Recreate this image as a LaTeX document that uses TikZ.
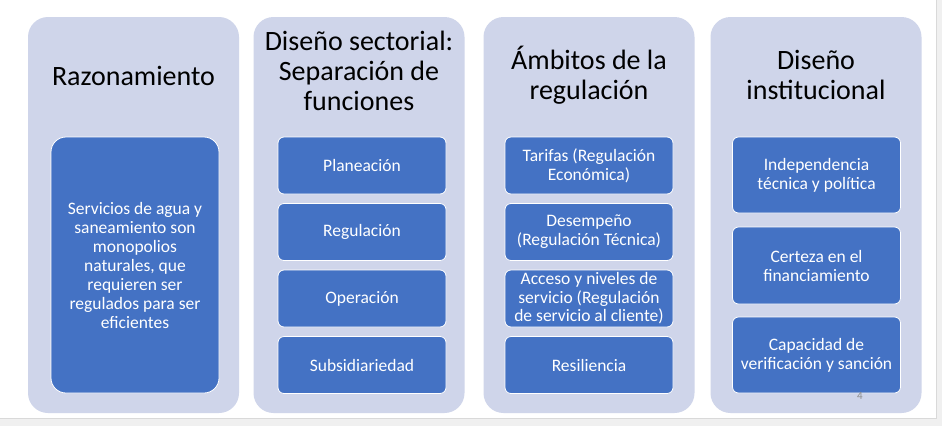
\documentclass[tikz,border=0pt]{standalone}
\usepackage{fontspec}
\setmainfont{Carlito}
\definecolor{outerc}{HTML}{CFD5EA}
\definecolor{innerc}{HTML}{4472C4}
\definecolor{pagebg}{HTML}{F0F0F0}
\definecolor{pageline}{HTML}{D9D9D9}
\definecolor{numc}{HTML}{8C8C8C}
\begin{document}
\begin{tikzpicture}[x=1pt,y=-1pt,
  outerbox/.style={fill=outerc, draw=none, rounded corners=20pt, minimum width=211pt, minimum height=396pt, inner sep=0pt},
  titletext/.style={align=center, anchor=base, inner sep=0pt, font=\fontsize{28}{30}\selectfont, text=black},
  innerbox/.style={fill=innerc, draw=white, line width=0.8pt, rounded corners=6pt, minimum width=168pt, inner sep=0pt, align=center, text=white, font=\fontsize{17.5}{19}\selectfont},
  h57/.style={minimum height=57pt},
  h76/.style={minimum height=76pt}]
\useasboundingbox (0,0) rectangle (942,426);
% page
\fill[pagebg] (0,0) rectangle (942,426);
\fill[white] (0,0) rectangle (936,418);
\draw[pageline, line width=0.8pt] (936,0) -- (936,418) -- (0,418);
% outer columns
\node[outerbox] (c1) at (133.5,215) {};
\node[outerbox] (c2) at (359,215) {};
\node[outerbox] (c3) at (589,215) {};
\node[outerbox] (c4) at (816,215) {};
% titles (base anchor = baseline of the last line)
\node[titletext] (t1) at (133.5,85) {Razonamiento};
\node[titletext] (t2) at (359,110) {Diseño sectorial:\\Separación de\\funciones};
\node[titletext] (t3) at (589,99) {Ámbitos de la\\regulación};
\node[titletext] (t4) at (816,99) {Diseño\\institucional};
% column 1
\node[innerbox, rounded corners=15pt, minimum height=256pt] (r1) at (135,265) {Servicios de agua y\\saneamiento son\\monopolios\\naturales, que\\requieren ser\\regulados para ser\\eficientes};
% column 2
\node[innerbox, h57] (s1) at (362,165.5) {Planeación};
\node[innerbox, h57] (s2) at (362,232) {Regulación};
\node[innerbox, h57] (s3) at (362,298.5) {Operación};
\node[innerbox, h57] (s4) at (362,365) {Subsidiariedad};
% column 3
\node[innerbox, h57] (a1) at (589,165.5) {Tarifas (Regulación\\Económica)};
\node[innerbox, h57] (a2) at (589,232) {Desempeño\\(Regulación Técnica)};
\node[innerbox, h57, font=\fontsize{17.5}{18.5}\selectfont] (a3) at (589,298.5) {Acceso y niveles de\\servicio (Regulación\\de servicio al cliente)};
\node[innerbox, h57] (a4) at (589,365) {Resiliencia};
% column 4
\node[innerbox, h76] (d1) at (816.5,175) {Independencia\\técnica y política};
\node[innerbox, h76, minimum height=77pt] (d2) at (816.5,265.5) {Certeza en el\\financiamiento};
\node[innerbox, h76] (d3) at (816.5,355) {Capacidad de\\verificación y sanción};
% slide number
\node[text=numc, font=\fontsize{11}{12}\selectfont, inner sep=0pt] (num) at (860,396) {4};
\end{tikzpicture}
\end{document}
